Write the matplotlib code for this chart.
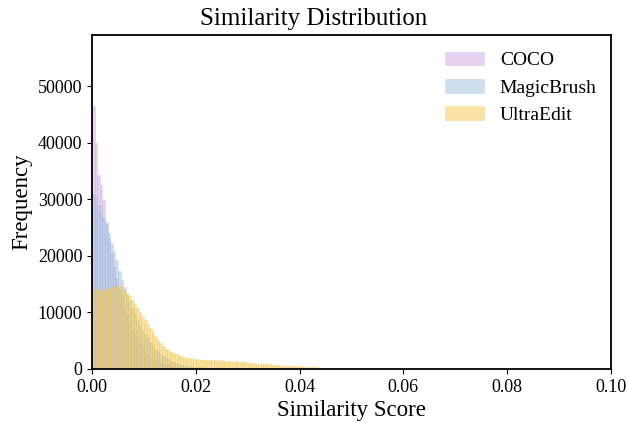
import numpy as np
import matplotlib
matplotlib.use('Agg')
import matplotlib.pyplot as plt

plt.rcParams['font.family'] = ['Liberation Serif', 'DejaVu Serif']

# histogram bins (width 0.0005 from 0 to 0.05)
bin_width = 0.0005
n_bins = 100

# counts per bin
coco = [46500, 40000, 34300, 32500, 29800, 26000, 23000, 20500, 18000, 16000,
        14000, 12300, 10800, 9400, 8200, 7100, 6100, 5200, 4400, 3700,
        3100, 2600, 2200, 1800, 1500, 1250, 1050, 880, 740, 620,
        520, 440, 370, 310, 260, 220, 190, 160, 140, 120,
        100, 90, 80, 70, 60, 55, 50, 45, 40, 35,
        30, 28, 25, 22, 20, 18, 15, 12, 10, 10] + [5] * 40

magicbrush = [31000, 30400, 29000, 27800, 26600, 25600, 24000, 22300, 20800, 19300,
              17300, 15700, 14500, 13200, 12000, 10800, 9700, 8700, 7800, 6900,
              6100, 5400, 4700, 4100, 3600, 3100, 2700, 2300, 2000, 1700,
              1450, 1250, 1050, 900, 780, 680, 600, 520, 460, 400,
              350, 310, 270, 240, 210, 180, 160, 140, 120, 100,
              90, 80, 70, 60, 50, 45, 40, 35, 30, 25,
              20, 18, 16, 14, 12, 10, 8, 6, 5, 4] + [2] * 30

ultraedit = [14000, 14100, 14200, 14000, 13900, 14100, 14300, 14500, 14600, 14700,
             14600, 14400, 14000, 13500, 12900, 12200, 11500, 10800, 10100, 9300,
             8600, 7900, 7200, 6500, 5800, 5200, 4600, 4100, 3600, 3300,
             3000, 2800, 2600, 2400, 2250, 2100, 2000, 1900, 1800, 1750,
             1700, 1650, 1600, 1650, 1550, 1600, 1500, 1550, 1450, 1500,
             1400, 1450, 1350, 1400, 1300, 1350, 1300, 1250, 1200, 1150,
             1100, 1050, 1000, 950, 950, 900, 900, 850, 800, 750,
             700, 700, 650, 600, 600, 550, 550, 500, 500, 450,
             450, 400, 400, 350, 350, 300, 300, 250, 220, 200,
             180, 150, 130, 110, 90, 70, 50, 40, 30, 20]

labels = ['COCO', 'MagicBrush', 'UltraEdit']
colors = ['#CDA9E5', '#9FC1DF', '#F3C74D']

edges = np.arange(n_bins + 1) * bin_width
centers = edges[:-1] + bin_width / 2

fig = plt.figure(figsize=(6.28, 4.23), dpi=100)
ax = fig.add_axes([0.1465, 0.1277, 0.8265, 0.7893])

for data, lab, col in zip([coco, magicbrush, ultraedit], labels, colors):
    ax.hist(centers, bins=edges, weights=data, color=col, alpha=0.5,
            edgecolor=col, linewidth=0.4, label=lab)

ax.set_xlim(0, 0.10)
ax.set_ylim(0, 59000)
ax.set_xticks(np.arange(0, 0.101, 0.02))
ax.set_xticklabels(['%.2f' % v for v in np.arange(0, 0.101, 0.02)])
ax.tick_params(labelsize=13)
for s in ax.spines.values():
    s.set_linewidth(1.3)

fig.suptitle('Similarity Distribution', fontsize=18, x=0.5, y=0.982, va='top')
ax.set_xlabel('Similarity Score', fontsize=16.5, labelpad=3)
ax.set_ylabel('Frequency', fontsize=16.5)
ax.legend(frameon=False, fontsize=14, loc='upper right',
          bbox_to_anchor=(1.006, 1.003))

fig.savefig('out.png', dpi=100)
